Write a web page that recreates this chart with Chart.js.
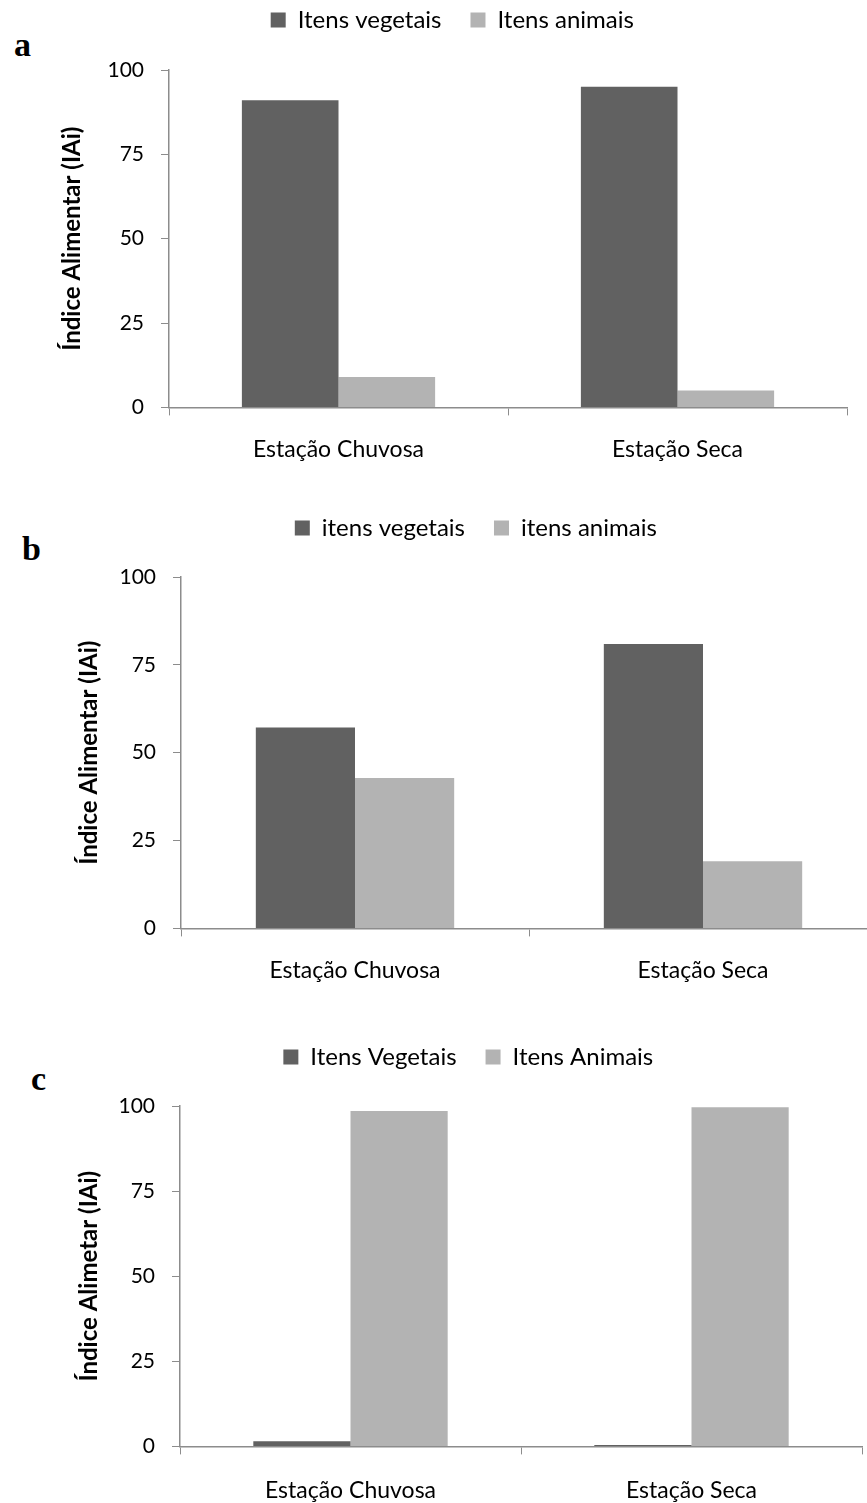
<!DOCTYPE html>
<html lang="pt">
<head>
<meta charset="utf-8">
<title>Índice Alimentar (IAi) por estação</title>
<script src="https://cdn.jsdelivr.net/npm/chart.js@4.4.1/dist/chart.umd.min.js"></script>
<style>
  html, body { margin: 0; padding: 0; background: #fff; overflow: hidden; }
  body { width: 867px; height: 1503px; position: relative; }
  .panel { position: absolute; }
  .letter { position: absolute; font-family: "Liberation Serif", "DejaVu Serif", serif; font-weight: bold; font-size: 34px; line-height: 1; color: #000; }
</style>
</head>
<body>
<div class="letter" style="left:14px; top:28px;">a</div>
<div class="letter" style="left:22px; top:532px;">b</div>
<div class="letter" style="left:31px; top:1062px;">c</div>
<div class="panel" style="left:0; top:-21px; width:867px; height:504px;"><canvas id="chartA"></canvas></div>
<div class="panel" style="left:0; top:487px; width:900px; height:517px;"><canvas id="chartB"></canvas></div>
<div class="panel" style="left:0; top:1016px; width:867px; height:510px;"><canvas id="chartC"></canvas></div>
<script>
// Seasons on the x axis
const categories = ['Estação Chuvosa', 'Estação Seca'];
// Y axis tick values
const yTicks = [0, 25, 50, 75, 100];

// Panel a
const seriesNamesA = ['Itens vegetais', 'Itens animais'];
const vegetaisA = [91, 95];
const animaisA = [9, 5];
const yTitleA = 'Índice Alimentar (IAi)';

// Panel b
const seriesNamesB = ['itens vegetais', 'itens animais'];
const vegetaisB = [57.2, 80.9];
const animaisB = [42.8, 19.1];
const yTitleB = 'Índice Alimentar (IAi)';

// Panel c
const seriesNamesC = ['Itens Vegetais', 'Itens Animais'];
const vegetaisC = [1.5, 0.4];
const animaisC = [98.5, 99.6];
const yTitleC = 'Índice Alimetar (IAi)';

const DARK = '#616161';
const LIGHT = '#b3b3b3';
const AXIS = '#8c8c8c';
const FONT = 'Lato, "Open Sans", sans-serif';

// Leaves extra room between the legend row and the plot area
const legendGap = {
  id: 'legendGap',
  beforeLayout(chart, args, opts) {
    const lg = chart.legend;
    if (lg && !lg.__gapWrapped) {
      const fit = lg.fit;
      lg.fit = function () {
        fit.call(this);
        this.height += opts.gap || 0;
      };
      lg.__gapWrapped = true;
    }
  }
};

function makeChart(canvasId, names, veg, ani, yTitle, layout) {
  return new Chart(document.getElementById(canvasId), {
    type: 'bar',
    plugins: [legendGap],
    data: {
      labels: categories,
      datasets: [
        { label: names[0], data: veg, backgroundColor: DARK, borderWidth: 0 },
        { label: names[1], data: ani, backgroundColor: LIGHT, borderWidth: 0 }
      ]
    },
    options: {
      responsive: true,
      maintainAspectRatio: false,
      animation: false,
      events: [],
      datasets: { bar: { categoryPercentage: 0.57, barPercentage: 1.0 } },
      layout: { padding: { left: layout.left, right: layout.right, top: 0, bottom: 0 } },
      plugins: {
        tooltip: { enabled: false },
        legendGap: { gap: layout.gap },
        legend: {
          display: true,
          position: 'top',
          labels: {
            boxWidth: 15,
            boxHeight: 15,
            padding: 29,
            color: '#000',
            font: { family: FONT, size: 24 }
          }
        }
      },
      scales: {
        x: {
          grid: { display: true, drawOnChartArea: false, drawTicks: true, tickLength: 8, color: AXIS, lineWidth: 1, offset: true },
          border: { display: true, color: AXIS, width: 1.5 },
          ticks: { color: '#000', padding: layout.xPad, font: { family: FONT, size: 23 }, maxRotation: 0 }
        },
        y: {
          min: 0,
          max: 100,
          afterBuildTicks: s => { s.ticks = yTicks.map(v => ({ value: v })); },
          afterFit: s => { s.width = layout.yWidth; },
          grid: { display: true, drawOnChartArea: false, drawTicks: true, tickLength: 8, color: AXIS, lineWidth: 1 },
          border: { display: true, color: AXIS, width: 1.5 },
          ticks: { color: '#000', padding: 17, font: { family: FONT, size: 21 } },
          title: {
            display: true,
            text: yTitle,
            color: '#000',
            padding: { top: 0, bottom: 0 },
            font: { family: FONT, size: 24, weight: 'bold' }
          }
        }
      }
    }
  });
}

makeChart('chartA', seriesNamesA, vegetaisA, animaisA, yTitleA, { left: 57.6, right: 20, yWidth: 111.4, xPad: 20, gap: 28 });
makeChart('chartB', seriesNamesB, vegetaisB, animaisB, yTitleB, { left: 74.6, right: 23, yWidth: 106.4, xPad: 20, gap: 27 });
makeChart('chartC', seriesNamesC, vegetaisC, animaisC, yTitleC, { left: 74.6, right: 5, yWidth: 105.4, xPad: 22, gap: 27 });
</script>
</body>
</html>
